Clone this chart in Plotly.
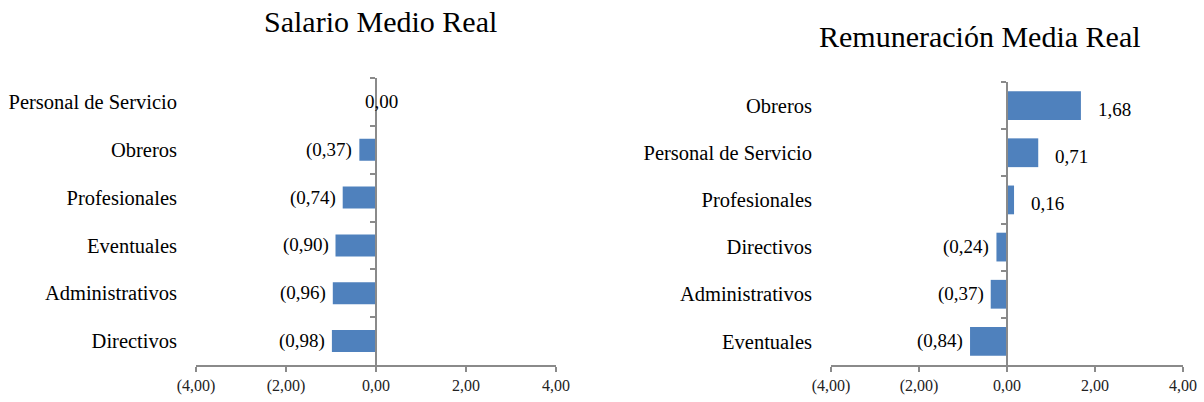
import plotly.graph_objects as go

# ---- data ----
sal_categories = ["Personal de Servicio", "Obreros", "Profesionales", "Eventuales", "Administrativos", "Directivos"]
sal_values = [0.00, -0.37, -0.74, -0.90, -0.96, -0.98]

rem_categories = ["Obreros", "Personal de Servicio", "Profesionales", "Directivos", "Administrativos", "Eventuales"]
rem_values = [1.68, 0.71, 0.16, -0.24, -0.37, -0.84]

x_ticks = [-4, -2, 0, 2, 4]
titles = ["Salario Medio Real", "Remuneración Media Real"]

# ---- styling ----
W, H = 1204, 402
FONT = "Liberation Serif"
BAR = "#4F81BD"
AXIS = "#8a8a8a"


def fmt(v):
    s = f"{abs(v):.2f}".replace(".", ",")
    return f"({s})" if v < 0 else s


x_ticktext = [fmt(v) for v in x_ticks]

panels = [
    dict(cats=sal_categories, vals=sal_values, xd=[196 / W, 556 / W], yd=[1 - 365 / H, 1 - 78 / H],
         width=0.46, pos_shift=16, zero_shift=-13, pos_yshift=0,
         title=titles[0], tx=380 / W, ty=1 - 21 / H),
    dict(cats=rem_categories, vals=rem_values, xd=[831 / W, 1183 / W], yd=[1 - 365 / H, 1 - 82 / H],
         width=0.61, pos_shift=15, zero_shift=-13, pos_yshift=-4,
         title=titles[1], tx=980 / W, ty=1 - 37 / H),
]

fig = go.Figure()
annotations = []
layout = dict(width=W, height=H, autosize=False, margin=dict(l=0, r=0, t=0, b=0, autoexpand=False),
              plot_bgcolor="white", paper_bgcolor="white", showlegend=False,
              font=dict(family=FONT, color="#000"))

for i, p in enumerate(panels):
    xa = "x" if i == 0 else "x2"
    ya = "y" if i == 0 else "y2"
    yo = "y3" if i == 0 else "y4"
    xkey = "xaxis" if i == 0 else "xaxis2"
    ykey = "yaxis" if i == 0 else "yaxis2"
    yokey = "yaxis3" if i == 0 else "yaxis4"

    fig.add_trace(go.Bar(x=p["vals"], y=p["cats"], orientation="h", width=p["width"],
                         marker=dict(color=BAR, line=dict(width=0)),
                         xaxis=xa, yaxis=ya, hoverinfo="skip"))
    # invisible trace registering categories on the overlay (zero-line) axis
    fig.add_trace(go.Scatter(x=[0] * len(p["cats"]), y=p["cats"], mode="markers",
                             marker=dict(opacity=0), xaxis=xa, yaxis=yo, hoverinfo="skip"))

    n = len(p["cats"])
    rng = [n - 0.5, -0.5]
    xr = [x_ticks[0], x_ticks[-1]]
    zero_frac = p["xd"][0] + (0 - xr[0]) / (xr[1] - xr[0]) * (p["xd"][1] - p["xd"][0])

    layout[xkey] = dict(domain=p["xd"], range=xr, anchor=ya, tickvals=x_ticks, ticktext=x_ticktext,
                        showline=True, linecolor=AXIS, linewidth=1.5, ticks="outside", ticklen=5,
                        tickcolor=AXIS, tickwidth=1.5, showgrid=False, zeroline=False, automargin=False,
                        tickfont=dict(size=16, color="#222", family=FONT), fixedrange=True)
    layout[ykey] = dict(domain=p["yd"], anchor=xa, type="category", categoryorder="array",
                        categoryarray=p["cats"], range=rng, showline=False, showgrid=False,
                        zeroline=False, ticks="", ticklabelstandoff=18, automargin=False,
                        tickfont=dict(size=20.5, color="#000", family=FONT), fixedrange=True)
    layout[yokey] = dict(overlaying=ya, anchor="free", position=zero_frac, side="left",
                         type="category", categoryorder="array", categoryarray=p["cats"], range=rng,
                         showline=True, linecolor=AXIS, linewidth=1.5, ticks="outside",
                         tickson="boundaries", ticklen=5, tickcolor=AXIS, tickwidth=1.5,
                         showticklabels=False, showgrid=False, zeroline=False, automargin=False,
                         fixedrange=True)

    for c, v in zip(p["cats"], p["vals"]):
        if v < 0:
            a = dict(xanchor="right", xshift=-5, yshift=0)
        elif v > 0:
            a = dict(xanchor="left", xshift=p["pos_shift"], yshift=p["pos_yshift"])
        else:
            a = dict(xanchor="left", xshift=p["zero_shift"], yshift=0)
        annotations.append(dict(x=v, y=c, xref=xa, yref=ya, text=fmt(v), showarrow=False,
                                font=dict(size=19, color="#000", family=FONT), **a))

    annotations.append(dict(x=p["tx"], y=p["ty"], xref="paper", yref="paper", text=p["title"],
                            showarrow=False, xanchor="center", yanchor="middle",
                            font=dict(size=30, color="#000", family=FONT)))

layout["annotations"] = annotations
fig.update_layout(**layout)
fig.write_html("out.html", config={"displayModeBar": False},
               post_script="document.body.style.margin='0px';")
